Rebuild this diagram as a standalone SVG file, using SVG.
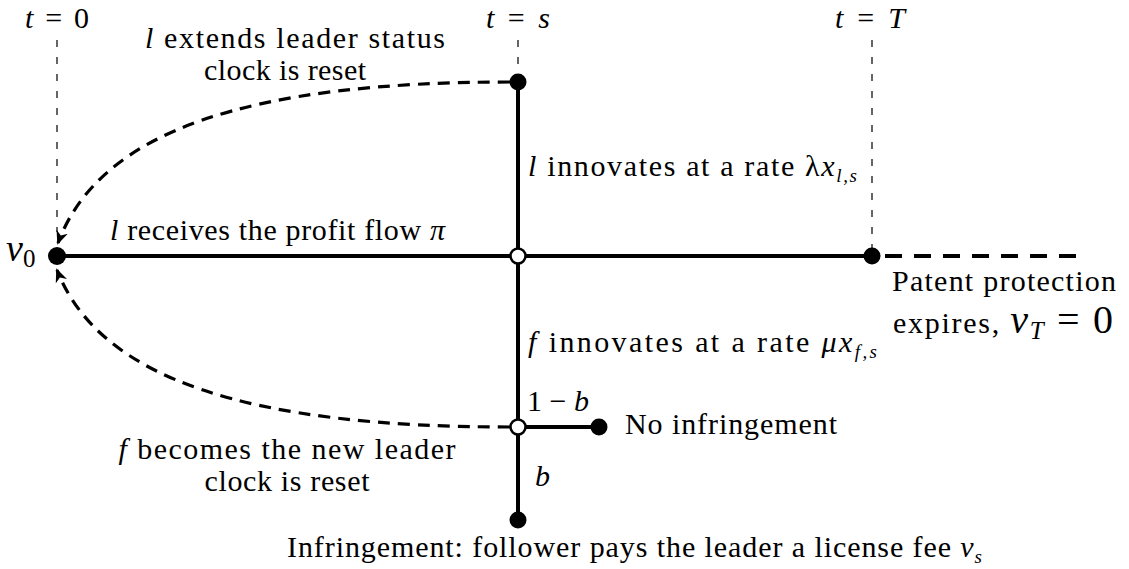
<svg xmlns="http://www.w3.org/2000/svg" width="1129" height="569" viewBox="0 0 1129 569">
<defs>
<style>
.t{font-size:30px;fill:#000}
.i{font-style:italic}
.thin{stroke:#000;stroke-width:1.2;stroke-dasharray:7,10;fill:none}
.solid{stroke:#000;stroke-width:4;fill:none}
.dash{stroke:#000;stroke-width:4;stroke-dasharray:17,12;fill:none}
.cdash{stroke:#000;stroke-width:3.2;stroke-dasharray:12,8;fill:none}
.fill{fill:#000}
.open{fill:#fff;stroke:#000;stroke-width:2.5}
</style>
<marker id="ah" viewBox="0 0 14 12" refX="12" refY="6" markerWidth="14" markerHeight="12" markerUnits="userSpaceOnUse" orient="auto">
<path d="M0,0 L14,6 L0,12 L4,6 Z" fill="#000"/>
</marker>
</defs>
<rect width="1129" height="569" fill="#fff"/>
<g id="connectors">
<line class="thin" x1="57" y1="40" x2="57" y2="232"/>
<line class="thin" x1="518" y1="40" x2="518" y2="74"/>
<line class="thin" x1="872" y1="40" x2="872" y2="248"/>
<line class="solid" x1="57" y1="256" x2="872" y2="256"/>
<line class="solid" x1="518" y1="82" x2="518" y2="520"/>
<line class="solid" x1="518" y1="427" x2="599" y2="427"/>
<line class="dash" x1="885" y1="256" x2="1076" y2="256"/>
<path class="cdash" d="M510,82 C250,82 100,130 58,243" marker-end="url(#ah)"/>
<path class="cdash" d="M510,427 C250,427 100,380 57,270" marker-end="url(#ah)"/>
</g>
<g id="v0"><circle class="fill" cx="57" cy="256" r="9"/></g>
<g id="leader-top"><circle class="fill" cx="518" cy="82" r="8.5"/></g>
<g id="s-node"><circle class="open" cx="518" cy="256" r="7.5"/></g>
<g id="T-node"><circle class="fill" cx="872" cy="256" r="8.5"/></g>
<g id="f-node"><circle class="open" cx="518" cy="427" r="7.5"/></g>
<g id="no-infr"><circle class="fill" cx="599" cy="427" r="8.5"/></g>
<g id="infr"><circle class="fill" cx="518" cy="520" r="8.5"/></g>
<g id="labels" font-family="'Liberation Serif', 'Times New Roman', serif">
<text class="t" x="57" y="28" text-anchor="middle" textLength="64"><tspan class="i">t</tspan> = 0</text>
<text class="t" x="518" y="28" text-anchor="middle" textLength="64"><tspan class="i">t</tspan> = <tspan class="i">s</tspan></text>
<text class="t" x="870" y="28" text-anchor="middle" textLength="70"><tspan class="i">t</tspan> = <tspan class="i">T</tspan></text>
<text class="t" x="295" y="48" text-anchor="middle" textLength="300"><tspan class="i">l</tspan> extends leader status</text>
<text class="t" x="285" y="80" text-anchor="middle" textLength="162">clock is reset</text>
<text class="t" x="528" y="176" textLength="329"><tspan class="i">l</tspan> innovates at a rate λ<tspan class="i">x</tspan><tspan class="i" font-size="19" dy="6">l,s</tspan></text>
<text class="t" x="6" y="261"><tspan class="i" font-size="38">v</tspan><tspan font-size="25" dy="6">0</tspan></text>
<text class="t" x="110" y="240" textLength="335"><tspan class="i">l</tspan> receives the profit flow <tspan class="i">π</tspan></text>
<text class="t" x="892" y="291" textLength="224">Patent protection</text>
<text class="t" x="893" y="333" textLength="220">expires, <tspan class="i" font-size="40">v</tspan><tspan class="i" font-size="25" dy="6">T</tspan><tspan font-size="40" dy="-6"> = 0</tspan></text>
<text class="t" x="528" y="352" textLength="349"><tspan class="i">f</tspan> innovates at a rate <tspan class="i">μx</tspan><tspan class="i" font-size="19" dy="6">f,s</tspan></text>
<text class="t" x="527" y="411" textLength="62">1 − <tspan class="i">b</tspan></text>
<text class="t" x="625" y="434" textLength="212">No infringement</text>
<text class="t" x="287" y="459" text-anchor="middle" textLength="337"><tspan class="i">f</tspan> becomes the new leader</text>
<text class="t" x="287" y="491" text-anchor="middle" textLength="165">clock is reset</text>
<text class="t i" x="535" y="486">b</text>
<text class="t" x="287" y="557" textLength="695">Infringement: follower pays the leader a license fee <tspan class="i">v</tspan><tspan class="i" font-size="19" dy="6">s</tspan></text>
</g>
</svg>
